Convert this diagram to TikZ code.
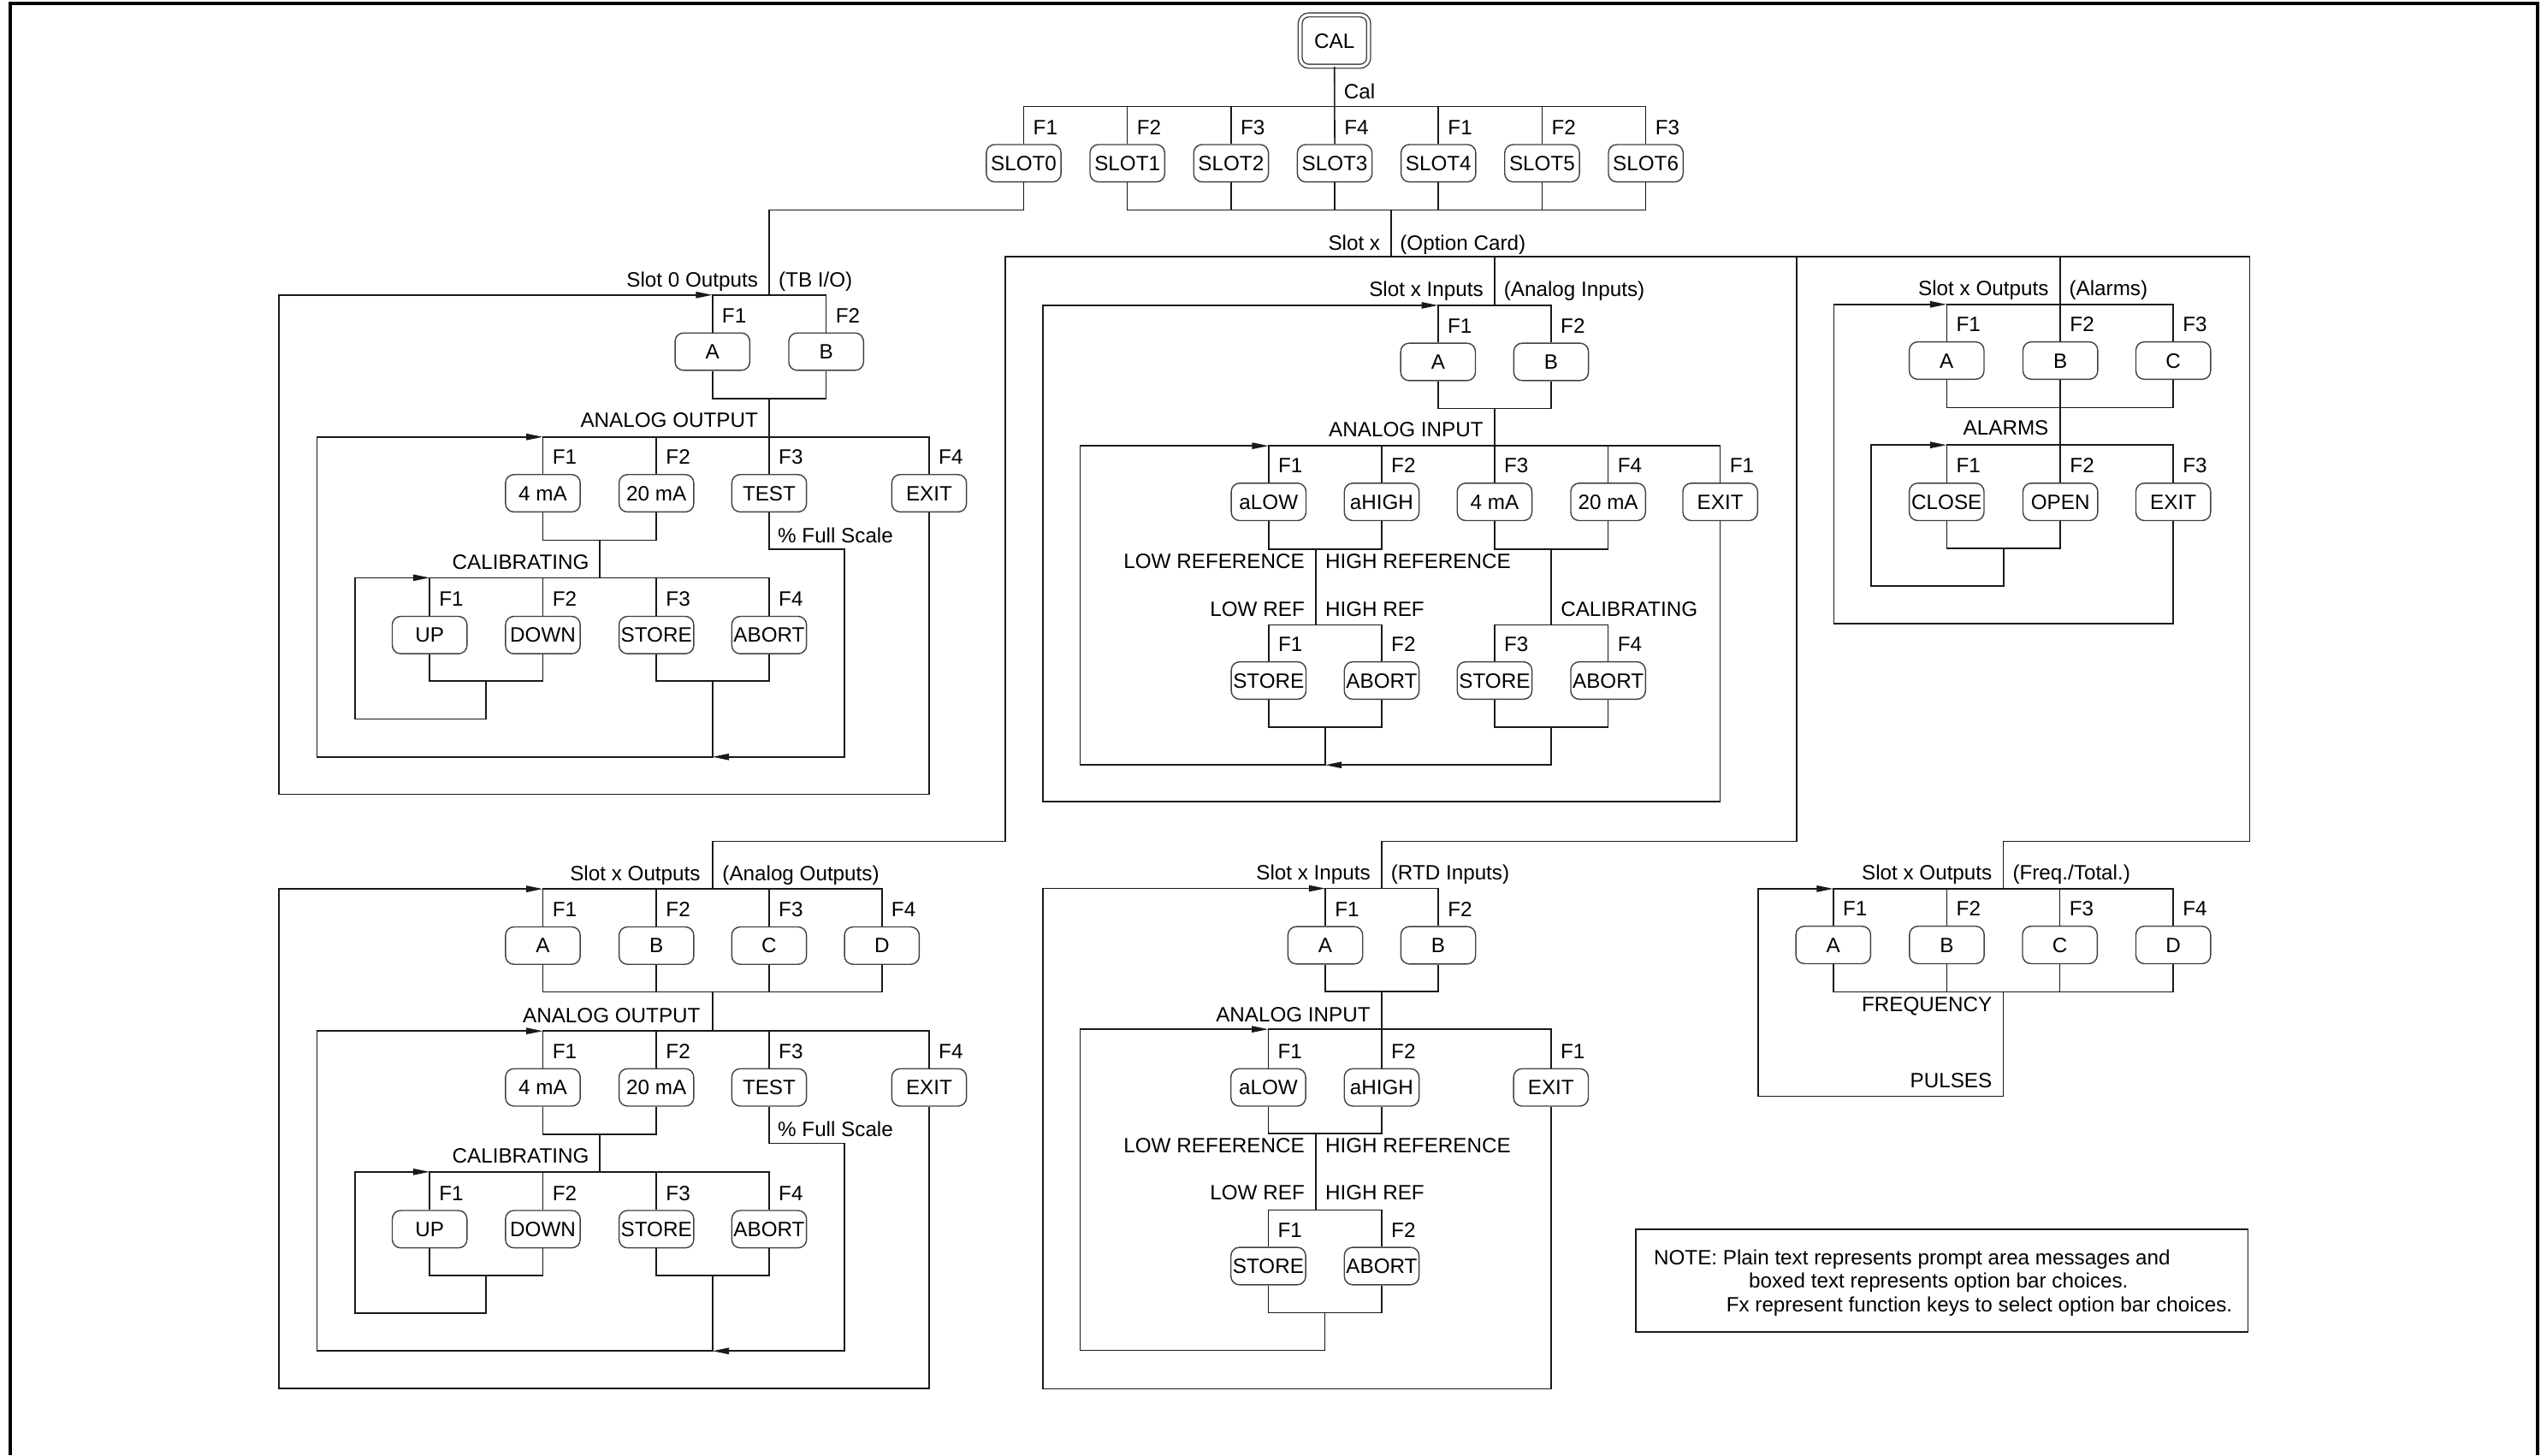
\documentclass[tikz,border=0pt]{standalone}
\usepackage{fontspec}
\setmainfont{Liberation Sans}
\usetikzlibrary{arrows.meta}
\tikzset{
  optbox/.style={draw=black!75, line width=0.4pt, rounded corners=2.8pt, minimum width=0.874cm,
    minimum height=0.437cm, inner xsep=0.5pt, inner ysep=0pt, text height=4.9pt, text depth=0pt},
  prompt/.style={inner sep=0pt, text height=4.9pt, text depth=0pt},
  fkey/.style={anchor=south west, inner sep=0pt, xshift=3pt, yshift=3pt, text height=4.9pt, text depth=0pt},
  wire/.style={line width=0.45pt, black!90},
  arrwire/.style={wire, -{Triangle[length=5.5pt,width=2.1pt]}},
}
\begin{document}
\begin{tikzpicture}[x=0.019cm, y=-0.019cm, font=\fontsize{6.9pt}{8pt}\selectfont]
    \useasboundingbox (0,0) rectangle (1568,896);
    \draw[line width=1.2pt] (6.3,896) -- (6.3,2.1) -- (1562.2,2.1) -- (1562.2,896);

    \node[optbox, minimum width=0.8cm, minimum height=0.6cm, double, double distance=0.9pt] (cal) at (821.5,25) {CAL};
    \foreach \i/\f in {0/1,1/2,2/3,3/4,4/1,5/2,6/3}
      \node[optbox, label={[fkey]90:F\f}] (sl\i) at (630.2+63.83*\i,100.5) {SLOT\i};
    \coordinate (calbar) at (821.5,65.5);
    \draw[wire] (cal.south) -- (sl3.north);
    \draw[wire] (sl0.north) |- (calbar) -| (sl6.north);
    \foreach \i in {1,2,4,5}
      \draw[wire] (sl\i.north) -- (sl\i.north |- calbar);
    \node[prompt, anchor=west] (tcal) at (827,56.2) {Cal};
    \coordinate (slbar) at (856.3,129.4);
    \coordinate (opbar) at (856.3,158);
    \draw[wire] (sl1.south) |- (slbar) -| (sl6.south);
    \foreach \i in {2,...,5}
      \draw[wire] (sl\i.south) -- (sl\i.south |- slbar);
    \draw[wire] (slbar) -- (opbar);
    \node[prompt, anchor=east] (tslx) at (850,149.3) {Slot x};
    \node[prompt, anchor=west] (topc) at (861.5,149.3) {(Option Card)};

    \coordinate (z-top) at (473.5,181.6);
    \coordinate (o-top) at (438.6,547.3);
    \coordinate (i-top) at (920,188);
    \coordinate (r-top) at (850.6,547);
    \coordinate (m-top) at (1268.4,187.4);
    \coordinate (q-top) at (1233.2,547.2);
    \draw[wire] (sl0.south) |- (473.5,129.4) -- (z-top);
    \draw[wire] (opbar) -| (619,518) -| (o-top);
    \draw[wire] (opbar) -| (i-top);
    \draw[wire] (opbar) -| (1106,518) -| (r-top);
    \draw[wire] (opbar) -| (1385,518) -| (q-top);
    \draw[wire] (m-top |- opbar) -- (m-top);

    \node[optbox, label={[fkey]90:F1}] (z-a) at (438.6,216.5) {A};
    \node[optbox, label={[fkey]90:F2}] (z-b) at (508.6,216.5) {B};
    \coordinate (z-ab) at (473.5,245.4);
    \draw[wire] (z-a.north) |- (z-top) -| (z-b.north);
    \draw[wire] (z-a.south) |- (z-ab) -| (z-b.south);
    \draw[wire] (z-ab) -- (473.5,269);
    \node[prompt, anchor=east] (z-t1) at (467,172.2) {Slot 0 Outputs};
    \node[prompt, anchor=west] (z-t2) at (479,172.2) {(TB I/O)};
    \node[prompt, anchor=east] (z-t3) at (467,258.5) {ANALOG OUTPUT};

    \node[optbox, label={[fkey]90:F1}] (o-a) at (334.2,582.2) {A};
    \node[optbox, label={[fkey]90:F2}] (o-b) at (404.1,582.2) {B};
    \node[optbox, label={[fkey]90:F3}] (o-c) at (473.5,582.2) {C};
    \node[optbox, label={[fkey]90:F4}] (o-d) at (542.9,582.2) {D};
    \coordinate (o-ab) at (438.6,610.7);
    \draw[wire] (o-a.north) |- (o-top) -| (o-d.north);
    \draw[wire] (o-a.south) |- (o-ab) -| (o-d.south);
    \foreach \n in {b,c} {
      \draw[wire] (o-\n.north) -- (o-\n.north |- o-top);
      \draw[wire] (o-\n.south) -- (o-\n.south |- o-ab);
    }
    \draw[wire] (o-ab) -- (438.6,633.9);
    \node[prompt, anchor=east] (o-t1) at (431.5,537.6) {Slot x Outputs};
    \node[prompt, anchor=west] (o-t2) at (444.4,537.6) {(Analog Outputs)};
    \node[prompt, anchor=east] (o-t3) at (431.5,624.9) {ANALOG OUTPUT};

    \foreach \p/\d in {z/0,o/365.8} {
      \node[optbox, label={[fkey]90:F1}] (\p-ma) at (334.2,303.7+\d) {4 mA};
      \node[optbox, label={[fkey]90:F2}] (\p-mb) at (404.1,303.7+\d) {20 mA};
      \node[optbox, label={[fkey]90:F3}] (\p-test) at (473.5,303.7+\d) {TEST};
      \node[optbox, label={[fkey]90:F4}] (\p-exit) at (572,303.7+\d) {EXIT};
      \node[optbox, label={[fkey]90:F1}] (\p-up) at (264.5,391+\d) {UP};
      \node[optbox, label={[fkey]90:F2}] (\p-down) at (334.2,391+\d) {DOWN};
      \node[optbox, label={[fkey]90:F3}] (\p-store) at (404.1,391+\d) {STORE};
      \node[optbox, label={[fkey]90:F4}] (\p-abort) at (473.5,391+\d) {ABORT};
      \coordinate (\p-r2) at (473.5,269+\d);
      \coordinate (\p-mm) at (369.3,332.7+\d);
      \coordinate (\p-r3) at (369.3,355.7+\d);
      \coordinate (\p-ud) at (299.3,419.4+\d);
      \coordinate (\p-sa) at (438.6,419.4+\d);
      \draw[wire] (\p-ma.north) |- (\p-r2) -| (\p-exit.north);
      \draw[wire] (\p-mb.north) -- (\p-mb.north |- \p-r2);
      \draw[wire] (\p-test.north) -- (\p-test.north |- \p-r2);
      \draw[wire] (\p-ma.south) |- (\p-mm) -| (\p-mb.south);
      \draw[wire] (\p-mm) -- (\p-r3);
      \draw[wire] (\p-up.north) |- (\p-r3) -| (\p-abort.north);
      \draw[wire] (\p-down.north) -- (\p-down.north |- \p-r3);
      \draw[wire] (\p-store.north) -- (\p-store.north |- \p-r3);
      \draw[wire] (\p-up.south) |- (\p-ud) -| (\p-down.south);
      \draw[wire] (\p-store.south) |- (\p-sa) -| (\p-abort.south);
      \draw[arrwire] (\p-ud) |- (218.5,442.6+\d) |- (\p-up.north |- \p-r3);
      \draw[arrwire] (\p-sa) |- (195.1,466+\d) |- (\p-ma.north |- \p-r2);
      \draw[arrwire] (\p-test.south) |- (520,338.2+\d) |- (438.6,466+\d);
      \draw[arrwire] (\p-exit.south) |- (171.7,489+\d) |- (\p-a.north |- \p-top);
      \node[prompt, anchor=east] (\p-tc) at (363,345.8+\d) {CALIBRATING};
      \node[prompt, anchor=west] (\p-tf) at (478.5,329.5+\d) {\% Full Scale};
    }

    \node[optbox, label={[fkey]90:F1}] (i-a) at (885.3,222.8) {A};
    \node[optbox, label={[fkey]90:F2}] (i-b) at (954.9,222.8) {B};
    \node[optbox, label={[fkey]90:F1}] (i-low) at (781,309) {aLOW};
    \node[optbox, label={[fkey]90:F2}] (i-high) at (850.6,309) {aHIGH};
    \node[optbox, label={[fkey]90:F3}] (i-ma) at (920.1,309) {4 mA};
    \node[optbox, label={[fkey]90:F4}] (i-mb) at (990,309) {20 mA};
    \node[optbox, label={[fkey]90:F1}] (i-exit) at (1059,309) {EXIT};
    \node[optbox, label={[fkey]90:F1}] (i-st1) at (781,419) {STORE};
    \node[optbox, label={[fkey]90:F2}] (i-ab1) at (850.6,419) {ABORT};
    \node[optbox, label={[fkey]90:F3}] (i-st2) at (920.1,419) {STORE};
    \node[optbox, label={[fkey]90:F4}] (i-ab2) at (990,419) {ABORT};
    \coordinate (i-ab) at (920,251.5);
    \coordinate (i-r2) at (920,274.5);
    \coordinate (i-lh) at (810,338);
    \coordinate (i-r3) at (815.8,384.7);
    \coordinate (i-j3) at (815.8,447.8);
    \coordinate (i-mm) at (955,338);
    \coordinate (i-r4) at (955,384.7);
    \coordinate (i-j4) at (955,447.8);
    \draw[wire] (i-a.north) |- (i-top) -| (i-b.north);
    \draw[wire] (i-a.south) |- (i-ab) -| (i-b.south);
    \draw[wire] (i-ab) -- (i-r2);
    \draw[wire] (i-low.north) |- (i-r2) -| (i-exit.north);
    \foreach \n in {high,ma,mb}
      \draw[wire] (i-\n.north) -- (i-\n.north |- i-r2);
    \draw[wire] (i-low.south) |- (i-lh) -| (i-high.south);
    \draw[wire] (i-lh) -- (i-lh |- i-r3);
    \draw[wire] (i-st1.north) |- (i-r3) -| (i-ab1.north);
    \draw[wire] (i-st1.south) |- (i-j3) -| (i-ab1.south);
    \draw[arrwire] (i-j3) |- (665,471) |- (i-low.north |- i-r2);
    \draw[wire] (i-ma.south) |- (i-mm) -| (i-mb.south);
    \draw[wire] (i-mm) -- (i-r4);
    \draw[wire] (i-st2.north) |- (i-r4) -| (i-ab2.north);
    \draw[wire] (i-st2.south) |- (i-j4) -| (i-ab2.south);
    \draw[arrwire] (i-j4) |- (815.8,471);
    \draw[arrwire] (i-exit.south) |- (642,493.4) |- (i-a.north |- i-top);
    \node[prompt, anchor=east] (i-t1) at (913.5,178) {Slot x Inputs};
    \node[prompt, anchor=west] (i-t2) at (925.5,178) {(Analog Inputs)};
    \node[prompt, anchor=east] (i-t3) at (913.5,264.5) {ANALOG INPUT};
    \node[prompt, anchor=east] (i-t4) at (803.5,345.6) {LOW REFERENCE};
    \node[prompt, anchor=west] (i-t5) at (815.5,345.6) {HIGH REFERENCE};
    \node[prompt, anchor=east] (i-t6) at (803.5,375) {LOW REF};
    \node[prompt, anchor=west] (i-t7) at (815.5,375) {HIGH REF};
    \node[prompt, anchor=west] (i-t8) at (960.5,375) {CALIBRATING};

    \node[optbox, label={[fkey]90:F1}] (r-a) at (815.9,582) {A};
    \node[optbox, label={[fkey]90:F2}] (r-b) at (885.4,582) {B};
    \node[optbox, label={[fkey]90:F1}] (r-low) at (780.8,669.5) {aLOW};
    \node[optbox, label={[fkey]90:F2}] (r-high) at (850.6,669.5) {aHIGH};
    \node[optbox, label={[fkey]90:F1}] (r-exit) at (954.8,669.5) {EXIT};
    \node[optbox, label={[fkey]90:F1}] (r-st) at (780.8,779.5) {STORE};
    \node[optbox, label={[fkey]90:F2}] (r-ab1) at (850.6,779.5) {ABORT};
    \coordinate (r-ab) at (850.6,610.5);
    \coordinate (r-r2) at (850.6,633.7);
    \coordinate (r-lh) at (810,698);
    \coordinate (r-r3) at (815.7,745);
    \coordinate (r-j3) at (815.7,808.3);
    \draw[wire] (r-a.north) |- (r-top) -| (r-b.north);
    \draw[wire] (r-a.south) |- (r-ab) -| (r-b.south);
    \draw[wire] (r-ab) -- (r-r2);
    \draw[wire] (r-low.north) |- (r-r2) -| (r-exit.north);
    \draw[wire] (r-high.north) -- (r-high.north |- r-r2);
    \draw[wire] (r-low.south) |- (r-lh) -| (r-high.south);
    \draw[wire] (r-lh) -- (r-lh |- r-r3);
    \draw[wire] (r-st.north) |- (r-r3) -| (r-ab1.north);
    \draw[wire] (r-st.south) |- (r-j3) -| (r-ab1.south);
    \draw[arrwire] (r-j3) |- (664.9,831.3) |- (r-low.north |- r-r2);
    \draw[arrwire] (r-exit.south) |- (641.9,855) |- (r-a.north |- r-top);
    \node[prompt, anchor=east] (r-t1) at (844,537.3) {Slot x Inputs};
    \node[prompt, anchor=west] (r-t2) at (856,537.3) {(RTD Inputs)};
    \node[prompt, anchor=east] (r-t3) at (844,624.7) {ANALOG INPUT};
    \node[prompt, anchor=east] (r-t4) at (803.5,705) {LOW REFERENCE};
    \node[prompt, anchor=west] (r-t5) at (815.5,705) {HIGH REFERENCE};
    \node[prompt, anchor=east] (r-t6) at (803.5,734.4) {LOW REF};
    \node[prompt, anchor=west] (r-t7) at (815.5,734.4) {HIGH REF};

    \node[optbox, label={[fkey]90:F1}] (m-a) at (1198.4,222) {A};
    \node[optbox, label={[fkey]90:F2}] (m-b) at (1268.4,222) {B};
    \node[optbox, label={[fkey]90:F3}] (m-c) at (1337.9,222) {C};
    \node[optbox, label={[fkey]90:F1}] (m-close) at (1198.4,309) {CLOSE};
    \node[optbox, label={[fkey]90:F2}] (m-open) at (1268.4,309) {OPEN};
    \node[optbox, label={[fkey]90:F3}] (m-exit) at (1337.9,309) {EXIT};
    \coordinate (m-ab) at (1268.4,250.9);
    \coordinate (m-r2) at (1268.4,274);
    \coordinate (m-co) at (1233.4,337.6);
    \draw[wire] (m-a.north) |- (m-top) -| (m-c.north);
    \draw[wire] (m-b.north) -- (m-top);
    \draw[wire] (m-a.south) |- (m-ab) -| (m-c.south);
    \draw[wire] (m-b.south) -- (m-ab) -- (m-r2);
    \draw[wire] (m-close.north) |- (m-r2) -| (m-exit.north);
    \draw[wire] (m-open.north) -- (m-r2);
    \draw[wire] (m-close.south) |- (m-co) -| (m-open.south);
    \draw[arrwire] (m-co) |- (1152,360.9) |- (m-close.north |- m-r2);
    \draw[arrwire] (m-exit.south) |- (1128.9,384) |- (m-a.north |- m-top);
    \node[prompt, anchor=east] (m-t1) at (1261.5,177.3) {Slot x Outputs};
    \node[prompt, anchor=west] (m-t2) at (1273.5,177.3) {(Alarms)};
    \node[prompt, anchor=east] (m-t3) at (1261.5,263.1) {ALARMS};

    \node[optbox, label={[fkey]90:F1}] (q-a) at (1128.6,581.8) {A};
    \node[optbox, label={[fkey]90:F2}] (q-b) at (1198.5,581.8) {B};
    \node[optbox, label={[fkey]90:F3}] (q-c) at (1268.1,581.8) {C};
    \node[optbox, label={[fkey]90:F4}] (q-d) at (1337.9,581.8) {D};
    \coordinate (q-ab) at (1233.2,610.8);
    \draw[wire] (q-a.north) |- (q-top) -| (q-d.north);
    \draw[wire] (q-a.south) |- (q-ab) -| (q-d.south);
    \foreach \n in {b,c} {
      \draw[wire] (q-\n.north) -- (q-\n.north |- q-top);
      \draw[wire] (q-\n.south) -- (q-\n.south |- q-ab);
    }
    \draw[arrwire] (q-ab) |- (1082.3,675) |- (q-a.north |- q-top);
    \node[prompt, anchor=east] (q-t1) at (1226.7,537) {Slot x Outputs};
    \node[prompt, anchor=west] (q-t2) at (1238.7,537) {(Freq./Total.)};
    \node[prompt, anchor=east] (q-t3) at (1226.7,618.2) {FREQUENCY};
    \node[prompt, anchor=east] (q-t4) at (1226.7,665) {PULSES};

    \draw[wire] (1007,757) rectangle (1384,820);
    \node[prompt, anchor=west] (n1) at (1017.8,774) {NOTE: Plain text represents prompt area messages and};
    \node[prompt, anchor=west] (n2) at (1076.3,788.5) {boxed text represents option bar choices.};
    \node[prompt, anchor=west] (n3) at (1062.4,803) {Fx represent function keys to select option bar choices.};
\end{tikzpicture}
\end{document}
